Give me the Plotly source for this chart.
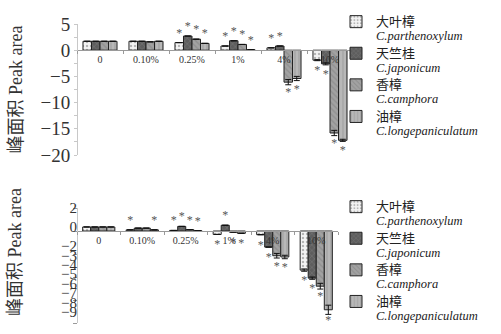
import plotly.graph_objects as go

# ---------------- data ----------------
categories = ["0", "0.10%", "0.25%", "1%", "4%", "10%"]
species_cn = ["大叶樟", "天竺桂", "香樟", "油樟"]
species_lat = ["C.parthenoxylum", "C.japonicum", "C.camphora", "C.longepaniculatum"]

# upper panel (peak area)
top_parthenoxylum = [1.7, 1.7, 1.45, 0.8, 0.45, -1.9]
top_japonicum = [1.7, 1.7, 2.7, 1.8, 0.8, -2.6]
top_camphora = [1.7, 1.6, 2.1, 1.1, -6.1, -15.8]
top_longepaniculatum = [1.7, 1.7, 1.3, 0.1, -5.4, -17.2]
top_err_parthenoxylum = [0, 0, 0, 0, 0, 0.1]
top_err_japonicum = [0, 0, 0, 0, 0, 0.2]
top_err_camphora = [0, 0, 0, 0, 0.5, 0.5]
top_err_longepaniculatum = [0, 0, 0, 0, 0.4, 0.2]
top_sig_parthenoxylum = [0, 0, 1, 1, 1, 1]
top_sig_japonicum = [0, 0, 1, 1, 1, 1]
top_sig_camphora = [0, 0, 1, 1, 1, 1]
top_sig_longepaniculatum = [0, 0, 1, 1, 1, 1]

# lower panel (peak area)
bot_parthenoxylum = [0.35, 0.1, 0.05, -0.3, -0.32, -3.4]
bot_japonicum = [0.35, 0.25, 0.4, 0.5, -1.4, -4.1]
bot_camphora = [0.35, 0.25, 0.12, -0.1, -2.15, -4.8]
bot_longepaniculatum = [0.35, 0.1, 0.03, -0.2, -2.26, -6.85]
bot_err_parthenoxylum = [0, 0, 0, 0, 0, 0.1]
bot_err_japonicum = [0, 0, 0, 0, 0, 0.1]
bot_err_camphora = [0, 0, 0, 0, 0.2, 0.25]
bot_err_longepaniculatum = [0, 0, 0, 0, 0.15, 0.4]
bot_sig_parthenoxylum = [0, 1, 1, 1, 1, 1]
bot_sig_japonicum = [0, 0, 1, 1, 1, 1]
bot_sig_camphora = [0, 0, 1, 1, 1, 1]
bot_sig_longepaniculatum = [0, 1, 1, 1, 1, 1]

top_ticks = [5, 0, -5, -10, -15, -20]
bot_tick_labels = [2, 0, -2, -3, -4, -5, -6, -7, -8, -9]

# ---------------- style ----------------
W, H = 501, 334
SERIF = "Liberation Serif, Noto Sans CJK SC, serif"
fills = ["#f4f4f4", "#5e5e5e", "#a2a2a2", "#b8b8b8"]
pat_shapes = [".", "x", "\\", "|"]
pat_fg = ["#777777", "#888888", "#7a7a7a", "#8c8c8c"]
STAR = dict(family=SERIF, size=12, color="#555555")


def fx(p):
    return p / W


def fy(p):
    return 1 - p / H


top_dom_x = [fx(77), fx(353)]
top_dom_y = [fy(155), fy(24)]
bot_dom_x = [fx(77), fx(338)]
bot_dom_y = [fy(323), fy(208)]
top_range = [-20, 5]
bot_range = [-8, 2]
lbl_range = [-10.17, 2.01]


def zero_pos(dom, rng):
    return dom[0] + (0 - rng[0]) / (rng[1] - rng[0]) * (dom[1] - dom[0])


def minus(v):
    return str(v).replace("-", "\u2212")


fig = go.Figure()

top_series = [top_parthenoxylum, top_japonicum, top_camphora, top_longepaniculatum]
top_errs = [top_err_parthenoxylum, top_err_japonicum, top_err_camphora, top_err_longepaniculatum]
top_sigs = [top_sig_parthenoxylum, top_sig_japonicum, top_sig_camphora, top_sig_longepaniculatum]
bot_series = [bot_parthenoxylum, bot_japonicum, bot_camphora, bot_longepaniculatum]
bot_errs = [bot_err_parthenoxylum, bot_err_japonicum, bot_err_camphora, bot_err_longepaniculatum]
bot_sigs = [bot_sig_parthenoxylum, bot_sig_japonicum, bot_sig_camphora, bot_sig_longepaniculatum]


def legend_name(i):
    return (f"<span style='font-size:13px'>{species_cn[i]}</span><br>"
            f"<span style='font-size:12.5px'><i>{species_lat[i]}</i></span>")


for panel, (series, errs, sigs, xa, ya, lg) in enumerate([
        (top_series, top_errs, top_sigs, "x", "y", "legend"),
        (bot_series, bot_errs, bot_sigs, "x2", "y2", "legend2")]):
    for i in range(4):
        fig.add_trace(go.Bar(
            x=categories, y=series[i], name=legend_name(i),
            xaxis=xa, yaxis=ya, legend=lg,
            marker=dict(color=fills[i], line=dict(color="#222222", width=1),
                        pattern=dict(shape=pat_shapes[i], fgcolor=pat_fg[i],
                                     bgcolor=fills[i], size=4, solidity=0.3)),
            error_y=dict(type="data", array=errs[i], visible=True,
                         color="#111111", thickness=1, width=3),
            text=["*" if s else "" for s in sigs[i]],
            textposition="outside", constraintext="none", cliponaxis=False,
            textfont=STAR, outsidetextfont=STAR,
        ))

# carrier for the label axis of the lower panel
fig.add_trace(go.Scatter(x=[categories[0]], y=[None], xaxis="x2", yaxis="y3",
                         mode="markers", showlegend=False, hoverinfo="skip"))

axis_gray = "#9a9a9a"
cat_axis = dict(type="category", showline=True, linecolor=axis_gray, linewidth=1,
                ticks="outside", ticklen=3, tickcolor=axis_gray, tickson="boundaries",
                tickfont=dict(family=SERIF, size=10, color="#333333"),
                showgrid=False, zeroline=False, anchor="free", fixedrange=True)

legend_common = dict(xanchor="left", yanchor="top",
                     font=dict(family=SERIF, size=11, color="#222222"),
                     bgcolor="rgba(0,0,0,0)", tracegroupgap=0, valign="top",
                     itemclick=False)

fig.update_layout(
    width=W, height=H, margin=dict(l=0, r=0, t=0, b=0, autoexpand=False),
    paper_bgcolor="white", plot_bgcolor="white",
    barmode="group", bargap=0.26, bargroupgap=0,
    font=dict(family=SERIF, color="#333333"),
    xaxis=dict(cat_axis, domain=top_dom_x, position=zero_pos(top_dom_y, top_range)),
    xaxis2=dict(cat_axis, domain=bot_dom_x, position=zero_pos(bot_dom_y, bot_range)),
    yaxis=dict(domain=top_dom_y, range=top_range, tickvals=top_ticks,
               ticktext=[minus(v) for v in top_ticks],
               showline=True, linecolor="#c8c8c8", ticks="outside", ticklen=3,
               tickcolor="#c8c8c8", minor=dict(dtick=2.5, ticks="outside", ticklen=3,
                                               tickcolor="#c8c8c8"),
               tickfont=dict(family=SERIF, size=19, color="#333333"),
               showgrid=False, zeroline=False, anchor="free", position=fx(77)),
    yaxis2=dict(domain=bot_dom_y, range=bot_range, dtick=2, showticklabels=False,
                showline=True, linecolor="#c8c8c8", ticks="outside", ticklen=4,
                tickcolor="#9a9a9a", showgrid=False, zeroline=False,
                anchor="free", position=fx(77)),
    yaxis3=dict(overlaying="y2", side="left", range=lbl_range, tickvals=bot_tick_labels,
                ticktext=[minus(v) for v in bot_tick_labels], ticks="", showline=False,
                showgrid=False, zeroline=False, anchor="free", position=fx(77),
                tickfont=dict(family=SERIF, size=15, color="#333333")),
    legend=dict(legend_common, x=fx(336), y=fy(8)),
    legend2=dict(legend_common, x=fx(336), y=fy(193)),
    showlegend=True,
)

# y-axis titles
for yc in [(24 + 155) / 2, 252]:
    fig.add_annotation(text="峰面积 Peak area", textangle=-90, x=fx(15), y=fy(yc),
                       xref="paper", yref="paper", xanchor="center", yanchor="middle",
                       showarrow=False,
                       font=dict(family=SERIF, size=18, color="#333333"))

fig.write_html("out.html", config={"displayModeBar": False},
               post_script="document.body.style.margin='0';")
